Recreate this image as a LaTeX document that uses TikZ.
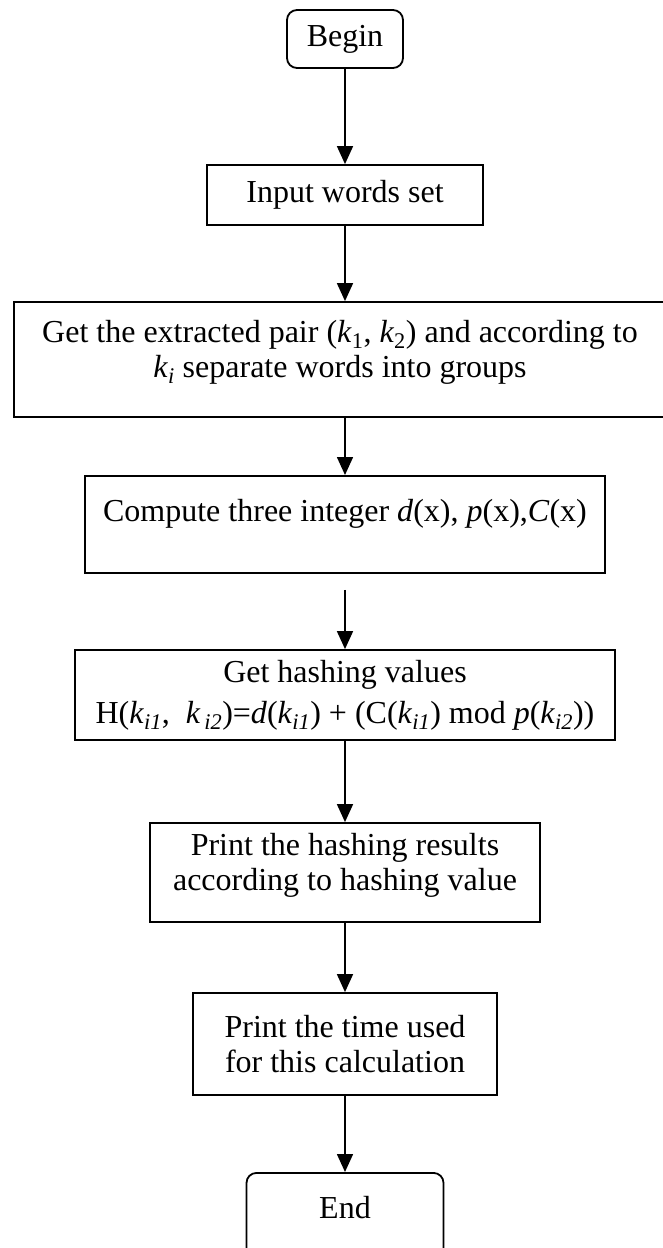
\documentclass[tikz,border=0pt]{standalone}
\usepackage{fontspec}
\setmainfont{Liberation Serif}
\usetikzlibrary{arrows.meta}
% invisible depth used to lift the text of a box a little
\newcommand{\lowpad}[1]{\rule[-#1]{0pt}{0pt}}
\begin{document}
\begin{tikzpicture}[x=1pt, y=-1pt,
  box/.style={draw, line width=1.8pt, inner sep=0pt, font=\fontsize{32}{35}\selectfont},
  multi/.style={box, align=center},
  term/.style={box, rounded corners=10pt},
  flow/.style={line width=1.6pt, -{Triangle[width=16pt,length=18pt]}}]
  \clip (0,0) rectangle (663,1248);

  % terminals and process steps, top to bottom
  \node[term, minimum width=116pt, minimum height=58pt] (begin) at (345,39) {Begin};
  \node[box, minimum width=276pt, minimum height=60pt] (input) at (345,195) {Input words set};
  \node[multi, minimum width=652pt, minimum height=115pt] (pair) at (340,359.5)
    {Get the extracted pair (\textit{k}\textsubscript{1}, \textit{k}\textsubscript{2}) and according to\\
     \textit{k}\textsubscript{\textit{i}} separate words into groups\lowpad{21pt}};
  \node[box, anchor=north, minimum width=520pt, text height=46pt, text depth=51pt] (cmp) at (345,475)
    {Compute three integer \textit{d}(x), \textit{p}(x),\textit{C}(x)};
  \node[multi, minimum width=540pt, minimum height=90pt] (hash) at (345,695)
    {Get hashing values\\[6pt]
     H(\textit{k}\textsubscript{\textit{i1}}, \ \textit{k}\textsubscript{\textit{\,i2}})=\textit{d}(\textit{k}\textsubscript{\textit{i1}}) + (C(\textit{k}\textsubscript{\textit{i1}}) mod \textit{p}(\textit{k}\textsubscript{\textit{i2}}))};
  \node[multi, minimum width=390pt, minimum height=99pt] (print) at (345,872.5)
    {Print the hashing results\\ according to hashing value\lowpad{21pt}};
  \node[multi, minimum width=304pt, minimum height=102pt] (time) at (345,1044)
    {Print the time used\\ for this calculation};
  \node[term, anchor=north, minimum width=197pt, text height=46pt, text depth=44pt] (end) at (345,1172) {End};

  % connectors
  \draw[flow] (begin) -- (input);
  \draw[flow] (input) -- (pair.north -| input.south);
  \draw[flow] (pair.south -| input.south) -- (cmp);
  \draw[flow] ([yshift=-16pt]cmp.south) -- (hash);
  \draw[flow] (hash) -- (print);
  \draw[flow] (print) -- (time);
  \draw[flow] (time) -- (end);
\end{tikzpicture}
\end{document}
